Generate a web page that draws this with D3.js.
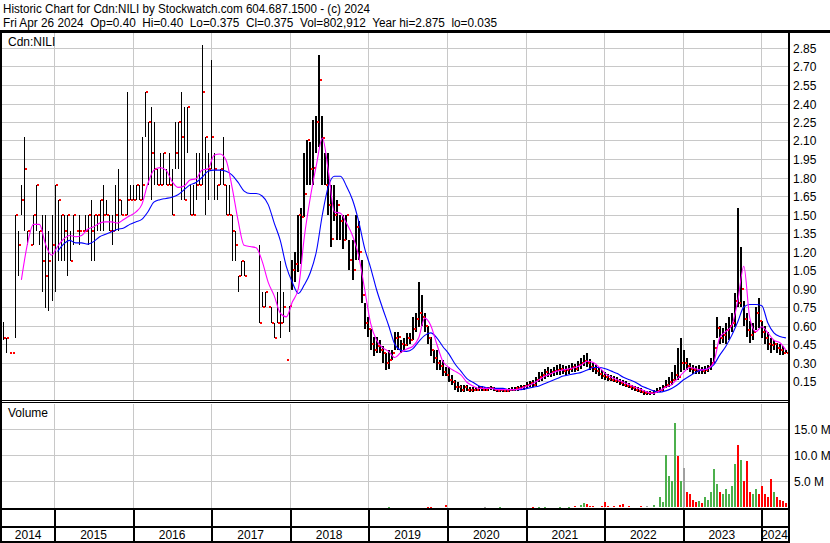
<!DOCTYPE html>
<html><head><meta charset="utf-8">
<script src="https://cdn.jsdelivr.net/npm/d3@7"></script>
<style>
body{margin:0;background:#fff}
svg{display:block;font-family:Arial,"Liberation Sans",sans-serif}
</style>
</head><body>
<svg id="c" width="830" height="543"></svg>
<script>
// ---------- text ----------
const titleLine1 = "Historic Chart for Cdn:NILI by Stockwatch.com 604.687.1500 - (c) 2024";
const titleLine2 = "Fri Apr 26 2024  Op=0.40  Hi=0.40  Lo=0.375  Cl=0.375  Vol=802,912  Year hi=2.875  lo=0.035";
const symbolLabel = "Cdn:NILI";
const volumeLabel = "Volume";
const years = ["2014","2015","2016","2017","2018","2019","2020","2021","2022","2023","2024"];
const priceTicks = [0.15,0.30,0.45,0.60,0.75,0.90,1.05,1.20,1.35,1.50,1.65,1.80,1.95,2.10,2.25,2.40,2.55,2.70,2.85];
const volumeTicks = [5,10,15];           // millions
const lastBarDate = "2024-04-26";       // bars are two-week bars ending on this date
const liquidFrom = "2018-01-01";        // before this the stock traded thinly (single-week ranges)

// ---------- two-week bars (2014 .. 2024) ----------
const low = [
 0.48,0.38,0.38,0.38,0.50,1.0,1.50,1.37,1.25,1.25,1.25,1.37,1.25,0.87,0.74,0.72,0.80,
 0.87,1.12,1.12,1.12,1.0,1.12,1.25,1.37,1.25,1.37,1.37,1.25,1.12,1.12,1.37,1.37,1.37,1.50,1.37,1.25,1.37,1.37,1.50,1.50,1.50,1.62,
 1.62,1.62,1.62,1.62,2.13,1.74,1.62,1.74,1.74,1.74,1.74,1.74,1.74,1.50,1.87,1.87,1.62,1.62,2.0,1.50,1.50,1.62,1.74,1.74,1.50,1.62,1.87,
 1.62,1.62,1.74,1.74,1.50,1.50,1.12,1.12,0.87,1.0,1.0,null,null,null,null,0.62,0.75,0.75,0.75,0.62,0.50,0.62,0.50,0.62,0.32,0.55,
 0.89,0.95,1.03,1.10,1.48,1.74,1.74,1.74,2.0,2.05,1.74,1.74,1.50,1.24,1.45,1.29,1.29,1.22,1.29,1.05,0.97,1.13,1.13,0.78,0.57,0.51,
 0.40,0.35,0.38,0.38,0.30,0.24,0.25,0.32,0.40,0.40,0.38,0.40,0.43,0.45,0.48,0.55,0.59,0.60,0.55,0.45,0.35,0.30,0.24,0.24,0.19,0.19,
 0.14,0.12,0.08,0.06,0.06,0.06,0.07,0.06,0.06,0.07,0.07,0.07,0.07,0.07,0.08,0.07,0.06,0.06,0.06,0.06,0.06,0.07,0.07,0.07,0.08,0.08,
 0.09,0.10,0.10,0.11,0.14,0.15,0.17,0.18,0.18,0.19,0.20,0.20,0.21,0.20,0.21,0.22,0.22,0.23,0.25,0.27,0.26,0.24,0.22,0.21,0.19,0.17,
 0.16,0.15,0.15,0.14,0.13,0.12,0.11,0.10,0.09,0.08,0.07,0.06,0.05,0.04,0.035,0.04,0.04,0.05,0.06,0.07,0.09,0.10,0.12,0.16,0.16,0.22,
 0.24,0.24,0.22,0.21,0.21,0.21,0.21,0.21,0.22,0.24,0.30,0.50,0.45,0.46,0.45,0.48,0.55,0.59,0.75,0.75,0.60,0.51,0.46,0.48,0.56,0.58,
 0.50,0.45,0.40,0.38,0.40,0.38,0.36,0.36,0.375
];
const high = [
 0.63,0.50,0.38,0.38,1.50,1.37,1.74,2.13,1.37,1.25,1.50,1.74,1.37,1.50,1.50,1.37,1.50,
 1.74,1.62,1.50,1.50,1.50,1.37,1.50,1.37,1.50,1.37,1.50,1.50,1.62,1.50,1.50,1.62,1.74,1.62,1.50,1.50,1.74,1.87,1.62,1.50,2.49,1.74,
 1.74,1.74,1.74,2.13,2.49,2.25,2.37,2.25,1.87,2.0,2.0,1.87,2.0,1.87,2.25,2.25,2.49,2.37,2.37,1.74,1.74,2.0,2.0,2.875,2.13,2.0,2.75,
 2.0,1.74,1.87,2.13,1.74,1.74,1.50,1.37,1.0,1.12,1.12,null,null,null,null,1.25,0.87,0.87,0.75,0.75,0.62,0.87,1.12,0.87,0.32,0.76,
 1.13,1.20,1.50,1.55,2.0,2.10,2.09,2.27,2.30,2.79,2.30,2.0,2.0,1.74,1.74,1.62,1.50,1.50,1.50,1.29,1.29,1.50,1.45,1.13,0.78,0.67,
 0.57,0.51,0.51,0.48,0.43,0.38,0.40,0.40,0.55,0.55,0.48,0.50,0.54,0.54,0.67,0.70,0.95,0.85,0.70,0.60,0.51,0.40,0.40,0.32,0.32,0.26,
 0.26,0.20,0.16,0.14,0.12,0.12,0.12,0.10,0.10,0.10,0.11,0.11,0.10,0.10,0.11,0.10,0.09,0.09,0.09,0.08,0.09,0.10,0.10,0.11,0.12,0.12,
 0.14,0.15,0.16,0.18,0.22,0.22,0.25,0.26,0.25,0.26,0.28,0.29,0.28,0.27,0.28,0.30,0.29,0.31,0.34,0.36,0.38,0.33,0.30,0.28,0.26,0.24,
 0.22,0.21,0.20,0.19,0.18,0.17,0.16,0.15,0.13,0.12,0.11,0.10,0.09,0.08,0.07,0.07,0.08,0.09,0.10,0.12,0.16,0.18,0.22,0.28,0.42,0.50,
 0.40,0.34,0.30,0.28,0.27,0.28,0.26,0.27,0.28,0.34,0.48,0.67,0.60,0.58,0.62,0.67,0.70,0.86,1.55,1.24,0.80,0.70,0.64,0.62,0.75,0.82,
 0.64,0.60,0.55,0.50,0.48,0.46,0.45,0.43,0.40
];
const close = [
 0.50,0.50,0.38,0.38,1.50,1.25,1.62,1.87,1.37,1.25,1.50,1.74,1.37,1.12,1.0,1.12,1.25,
 1.74,1.62,1.50,1.37,1.50,1.12,1.50,1.37,1.37,1.37,1.37,1.50,1.37,1.50,1.50,1.62,1.50,1.50,1.37,1.37,1.50,1.62,1.50,1.50,1.62,1.62,
 1.62,1.74,1.62,1.74,2.49,2.25,2.0,1.87,1.74,1.74,2.0,1.74,1.74,1.50,2.0,2.25,2.13,1.62,2.37,1.50,1.50,1.74,1.74,2.49,2.13,1.87,2.13,
 1.87,1.74,1.87,1.74,1.50,1.50,1.37,1.25,1.0,1.12,1.0,null,null,null,null,0.62,0.75,0.87,0.75,0.62,0.50,0.62,0.62,0.75,0.32,0.76,
 1.05,1.10,1.50,1.48,1.67,2.10,1.87,1.88,2.25,2.59,2.12,1.74,1.58,1.30,1.50,1.58,1.45,1.29,1.50,1.13,1.05,1.40,1.20,0.85,0.62,0.57,
 0.45,0.40,0.43,0.40,0.38,0.30,0.32,0.38,0.50,0.51,0.45,0.44,0.50,0.48,0.57,0.65,0.70,0.67,0.60,0.50,0.40,0.34,0.30,0.27,0.22,0.20,
 0.16,0.14,0.10,0.10,0.08,0.10,0.08,0.08,0.08,0.08,0.09,0.08,0.08,0.09,0.09,0.08,0.07,0.08,0.07,0.07,0.08,0.08,0.09,0.09,0.10,0.11,
 0.12,0.13,0.12,0.16,0.18,0.20,0.22,0.21,0.22,0.23,0.24,0.25,0.23,0.24,0.25,0.26,0.25,0.28,0.30,0.31,0.30,0.26,0.25,0.23,0.21,0.19,
 0.18,0.17,0.16,0.15,0.15,0.13,0.12,0.11,0.10,0.09,0.08,0.07,0.06,0.05,0.05,0.05,0.06,0.07,0.08,0.10,0.12,0.14,0.16,0.20,0.18,0.30,
 0.30,0.27,0.25,0.24,0.23,0.24,0.23,0.24,0.26,0.30,0.42,0.58,0.50,0.52,0.56,0.60,0.62,0.80,0.78,0.90,0.65,0.56,0.52,0.55,0.70,0.64,
 0.55,0.50,0.45,0.44,0.45,0.42,0.40,0.38,0.375
];
// volume per two-week bar, millions of shares
const volume = [
 0,0,0,0,0,0,0,0,0,0,0,0,0,0,0,0,0,
 0,0,0,0,0,0,0,0,0,0,0,0,0,0,0,0,0,0,0,0,0,0,0,0,0,0,
 0,0,0,0,0,0,0,0,0,0,0,0,0,0,0,0,0,0,0,0,0,0,0,0,0,0,0,
 0,0,0,0,0,0,0,0,0,0,0,0,0,0,0,0,0,0,0,0,0,0,0,0,0,0,
 0,0,0,0,0,0,0,0,0,0,0,0,0,0,0,0,0,0,0,0,0,0,0,0,0,0,
 0,0,0,0,0,0,0.1,0,0,0,0,0,0,0,0,0,0,0,0,0.15,0.15,0,0,0,0,0.4,
 0,0,0,0,0,0,0,0,0,0,0,0,0.1,0,0,0,0,0.1,0,0,0,0,0,0,0,0,
 0,0,0.15,0,0.1,0,0.1,0,0,0,0,0.15,0,0,0.1,0,0.2,0,0.5,0.8,0.6,0.3,0.3,0,0,0.3,
 1.0,0.3,0,0.3,0,0.4,0.6,0,0.2,0,0,0,0.2,0,0.3,0,0.5,0,2.0,1.0,10.0,6.0,5.0,16.0,9.8,5.0,
 7.5,3.0,2.5,1.5,1.0,1.2,0.8,2.0,1.5,3.0,7.3,4.5,3.0,2.5,3.5,2.5,4.0,8.2,11.8,9.0,5.0,8.8,3.0,2.5,3.5,2.5,
 4.0,2.5,2.0,5.5,3.0,2.0,1.5,1.2,0.8
];

// ---------- moving averages, read every second bar ----------
const maFast = [
 null,null,null,
 0.97,1.26,1.42,1.42,1.26,1.17,1.24,1.30,1.33,1.32,
 1.33,1.38,1.40,1.43,1.44,1.44,1.43,1.46,1.49,1.52,
 1.58,1.75,1.86,1.88,1.86,1.77,1.72,1.73,1.78,1.79,
 1.86,1.87,1.98,1.99,1.94,1.72,1.45,1.25,1.24,1.23,
 1.12,0.95,0.84,0.70,0.67,0.79,0.90,1.32,1.64,1.90,
 2.12,1.85,1.52,1.51,1.43,1.33,1.17,0.90,0.62,0.48,
 0.42,0.39,0.34,0.38,0.41,0.43,0.50,0.66,0.60,0.45,
 0.31,0.26,0.23,0.20,0.14,0.11,0.09,0.09,0.09,0.08,
 0.08,0.08,0.08,0.09,0.11,0.13,0.16,0.19,0.21,0.23,
 0.24,0.25,0.26,0.28,0.31,0.30,0.26,0.21,0.18,0.16,
 0.14,0.12,0.10,0.08,0.06,0.05,0.07,0.10,0.12,0.17,
 0.22,0.26,0.25,0.24,0.25,0.30,0.50,0.55,0.60,0.80,
 1.08,0.66,0.55,0.59,0.54,0.48,0.46,0.40
];
const maSlow = [
 null,null,null,null,null,null,null,null,null,
 1.20,1.26,1.29,1.27,1.27,1.26,1.28,1.32,1.34,1.36,
 1.38,1.39,1.42,1.44,1.46,1.52,1.60,1.62,1.63,1.64,
 1.66,1.70,1.74,1.76,1.80,1.85,1.86,1.86,1.85,1.82,
 1.76,1.69,1.67,1.67,1.65,1.58,1.43,1.29,1.08,0.95,
 0.86,0.93,1.03,1.20,1.50,1.73,1.81,1.81,1.73,1.62,
 1.45,1.23,1.07,0.89,0.74,0.60,0.45,0.40,0.39,0.41,
 0.47,0.52,0.54,0.50,0.43,0.37,0.29,0.23,0.17,0.14,
 0.11,0.10,0.09,0.09,0.09,0.08,0.08,0.08,0.09,0.10,
 0.11,0.13,0.15,0.17,0.19,0.20,0.21,0.22,0.24,0.26,
 0.26,0.25,0.23,0.21,0.18,0.16,0.14,0.11,0.09,0.07,
 0.06,0.07,0.09,0.12,0.16,0.19,0.22,0.24,0.25,0.28,
 0.36,0.43,0.52,0.63,0.75,0.77,0.77,0.76,0.62,0.54,
 0.51,0.50
];

// ---------- drawing ----------
const svg = d3.select("#c");
const n = close.length;
const parse = d3.timeParse("%Y-%m-%d");
const endDate = parse(lastBarDate);
const liquidDate = parse(liquidFrom);
const dates = d3.range(n).map(i => d3.timeDay.offset(endDate, -(n - 1 - i) * 14));

const L = 2, R = 788;
const P_TOP = 33, P_BOT = 400;
const V_TOP = 404, V_BOT = 508;

const x = d3.scaleTime().domain([new Date(2015,0,1), new Date(2024,0,1)]).range([54.3, 761]);
const yP = d3.scaleLinear().domain([0, 3]).range([399.5, 29.5]);
const yV = d3.scaleLinear().domain([0, 15]).range([507.4, 428.6]);
const px = d => Math.round(x(d));

const GRID = "#c8c8c8";
const defs = svg.append("defs");
defs.append("clipPath").attr("id","clipP").append("rect").attr("x",L).attr("y",P_TOP).attr("width",R-L).attr("height",P_BOT-P_TOP);
defs.append("clipPath").attr("id","clipV").append("rect").attr("x",L).attr("y",V_TOP).attr("width",R-L).attr("height",V_BOT-V_TOP);

// header
const hdr = svg.append("g").attr("font-size",12).attr("fill","#000");
hdr.append("text").attr("x",3).attr("y",13).attr("textLength",367).attr("lengthAdjust","spacingAndGlyphs").text(titleLine1);
hdr.append("text").attr("x",3).attr("y",27).attr("textLength",494).attr("lengthAdjust","spacingAndGlyphs")
   .style("white-space","pre").text(titleLine2);

// year boundaries
const yearStarts = years.slice(1).map(y => new Date(+y, 0, 1));

// price panel grid
const gP = svg.append("g").attr("shape-rendering","crispEdges");
gP.selectAll("line.h").data(priceTicks).join("line")
  .attr("x1",L).attr("x2",R)
  .attr("y1",d=>Math.round(yP(d))+0.5).attr("y2",d=>Math.round(yP(d))+0.5)
  .attr("stroke",GRID).attr("stroke-width",1);
gP.selectAll("line.v").data(yearStarts).join("line")
  .attr("x1",d=>px(d)+0.5).attr("x2",d=>px(d)+0.5)
  .attr("y1",P_TOP).attr("y2",P_BOT)
  .attr("stroke",GRID).attr("stroke-width",1);

// volume panel grid
const gV = svg.append("g").attr("shape-rendering","crispEdges");
gV.selectAll("line.h").data(volumeTicks).join("line")
  .attr("x1",L).attr("x2",R)
  .attr("y1",d=>Math.round(yV(d))+0.5).attr("y2",d=>Math.round(yV(d))+0.5)
  .attr("stroke",GRID);
gV.selectAll("line.v").data(yearStarts).join("line")
  .attr("x1",d=>px(d)+0.5).attr("x2",d=>px(d)+0.5)
  .attr("y1",V_TOP).attr("y2",V_BOT)
  .attr("stroke",GRID);

// price bars
const bars = d3.range(n).filter(i => close[i] != null);
const barW = i => dates[i] < liquidDate ? 1 : 2;
const gB = svg.append("g").attr("clip-path","url(#clipP)").attr("shape-rendering","crispEdges");
gB.selectAll("rect.hl").data(bars.filter(i => high[i] > low[i])).join("rect")
  .attr("x",i=>px(dates[i]) - (barW(i) - 1)).attr("width",barW)
  .attr("y",i=>Math.round(yP(high[i])))
  .attr("height",i=>Math.max(1,Math.round(yP(low[i]))-Math.round(yP(high[i]))))
  .attr("fill","#000");
gB.selectAll("rect.cl").data(bars).join("rect")
  .attr("x",i=>px(dates[i])+1).attr("width",2)
  .attr("y",i=>Math.round(yP(close[i]))-1).attr("height",2)
  .attr("fill","#ff0000");

// moving averages (values at every second bar)
const maLine = d3.line()
  .defined(d => d.v != null)
  .x(d => x(dates[d.i])).y(d => yP(d.v))
  .curve(d3.curveMonotoneX);
const slowPts = maSlow.map((v,k)=>({i:Math.min(2*k,n-1), v}));
const fastPts = maFast.map((v,k)=>({i:Math.min(2*k,n-1), v}));
const gM = svg.append("g").attr("clip-path","url(#clipP)");
gM.append("path").attr("d",maLine(slowPts)).attr("fill","none").attr("stroke","#0000ff").attr("stroke-width",1.1);
gM.append("path").attr("d",maLine(fastPts)).attr("fill","none").attr("stroke","#ff00ff").attr("stroke-width",1.1);

// volume bars, coloured by change of close
let prev = null;
const volColor = [];
for (let i = 0; i < n; i++) {
  const c = close[i];
  if (c == null) { volColor.push("#a0a0a0"); continue; }
  volColor.push(prev == null || c === prev ? "#a0a0a0" : (c > prev ? "#4cb04c" : "#ff0000"));
  prev = c;
}
const gVol = svg.append("g").attr("clip-path","url(#clipV)").attr("shape-rendering","crispEdges");
gVol.selectAll("rect").data(d3.range(n).filter(i => volume[i] > 0)).join("rect")
  .attr("x",i=>px(dates[i])-1).attr("width",2)
  .attr("y",i=>Math.round(yV(volume[i]))).attr("height",i=>Math.max(1,Math.round(yV(0))-Math.round(yV(volume[i]))))
  .attr("fill",i=>volColor[i]);

// panel labels
svg.append("text").attr("x",8).attr("y",46).attr("font-size",12).text(symbolLabel);
svg.append("text").attr("x",8).attr("y",417).attr("font-size",12).text(volumeLabel);

// right axis labels
svg.append("g").attr("font-size",12).selectAll("text").data(priceTicks).join("text")
  .attr("x",793).attr("y",d=>Math.round(yP(d))+4.5).text(d=>d3.format(".2f")(d));
svg.append("g").attr("font-size",12).selectAll("text").data(volumeTicks).join("text")
  .attr("x",794).attr("y",d=>Math.round(yV(d))+4.5).text(d=>d3.format(".1f")(d)+" M");

// frame lines
const frame = svg.append("g").attr("fill","#000").attr("shape-rendering","crispEdges");
frame.append("rect").attr("x",0).attr("y",30).attr("width",830).attr("height",3);
frame.append("rect").attr("x",0).attr("y",30).attr("width",2).attr("height",513);
frame.append("rect").attr("x",R).attr("y",30).attr("width",2).attr("height",513);
frame.append("rect").attr("x",0).attr("y",400).attr("width",R).attr("height",1);
frame.append("rect").attr("x",0).attr("y",402).attr("width",R).attr("height",1);
frame.append("rect").attr("x",0).attr("y",508).attr("width",R).attr("height",2);
frame.append("rect").attr("x",0).attr("y",526).attr("width",R).attr("height",2);
frame.append("rect").attr("x",0).attr("y",541).attr("width",R+2).attr("height",2);

// year separators in the two bottom rows
frame.selectAll("rect.sep").data(yearStarts).join("rect")
  .attr("x",d=>px(d)-0.5).attr("width",2)
  .attr("y",510).attr("height",31);

// year labels
const yearCells = years.map(y => {
  const a = Math.max(L, x(new Date(+y,0,1)));
  const b = Math.min(R, x(new Date(+y+1,0,1)));
  return {y, c:(a+b)/2};
});
svg.append("g").attr("font-size",12).attr("text-anchor","middle").selectAll("text").data(yearCells).join("text")
  .attr("x",d=>d.c).attr("y",539).text(d=>d.y);
</script>
</body></html>
